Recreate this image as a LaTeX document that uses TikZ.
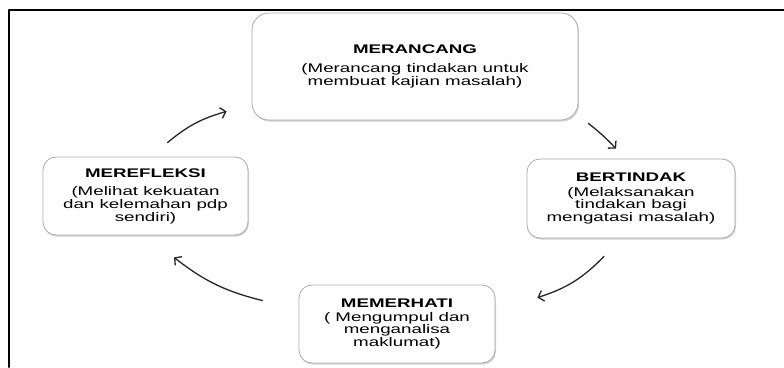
\documentclass[tikz,border=0pt]{standalone}
\usepackage{fontspec}
\setmainfont{Liberation Sans}[FakeStretch=1.5]
\newfontfamily\polos{Liberation Sans}
\usetikzlibrary{arrows.meta,shadows}
\newcommand{\tajuk}[1]{\scalebox{1.5}[1]{\polos\bfseries\fontsize{12.5}{12}\selectfont #1}}
\begin{document}
\begin{tikzpicture}[x=1pt,y=1pt,>={Straight Barb[length=5pt,width=11pt]}, line join=round, line cap=round,
	kotak/.style={draw=gray!65, line width=0.8pt, rounded corners=13pt, fill=white, align=center, inner sep=2pt,
		drop shadow={shadow xshift=1pt,shadow yshift=-1.6pt,opacity=0.35},
		font=\fontsize{12.5}{10.8}\selectfont},
	anak/.style={->, line width=1.3pt, black!85}]
	\useasboundingbox (0,0) rectangle (784,367);
	% bingkai
	\draw[line width=2pt] (9,0) -- (9,357) -- (784,357);
	% kotak kitaran
	\node[kotak, minimum width=326pt, minimum height=107pt, rounded corners=17pt] (merancang) at (415,300.5)
		{\tajuk{MERANCANG}\\[8pt](Merancang tindakan untuk\\membuat kajian masalah)};
	\node[kotak, minimum width=208pt, minimum height=79pt] (bertindak) at (631,168.5)
		{\tajuk{BERTINDAK}\\[4pt](Melaksanakan\\tindakan bagi\\mengatasi masalah)};
	\node[kotak, minimum width=196pt, minimum height=78pt] (memerhati) at (397,43)
		{\tajuk{MEMERHATI}\\[3pt]( Mengumpul dan\\menganalisa\\maklumat)};
	\node[kotak, minimum width=205pt, minimum height=78pt] (merefleksi) at (145.5,171)
		{\tajuk{MEREFLEKSI}\\[8pt](Melihat kekuatan\\dan kelemahan pdp\\sendiri)};
	% anak panah
	\draw[anak] ([xshift=22pt,yshift=14pt]merefleksi.north) to[bend left=12] ([xshift=-25pt,yshift=9pt]merancang.south west);
	\draw[anak] ([xshift=10pt,yshift=-3pt]merancang.south east) to[bend left=4] ([xshift=-15pt,yshift=10pt]bertindak.north);
	\draw[anak] ([xshift=-27pt,yshift=-18pt]bertindak.south) to[bend left=14] ([xshift=42pt,yshift=-13pt]memerhati.north east);
	\draw[anak] ([xshift=-36pt,yshift=-16pt]memerhati.north west) to[bend left=12] ([xshift=28.5pt,yshift=-22pt]merefleksi.south);
\end{tikzpicture}
\end{document}
